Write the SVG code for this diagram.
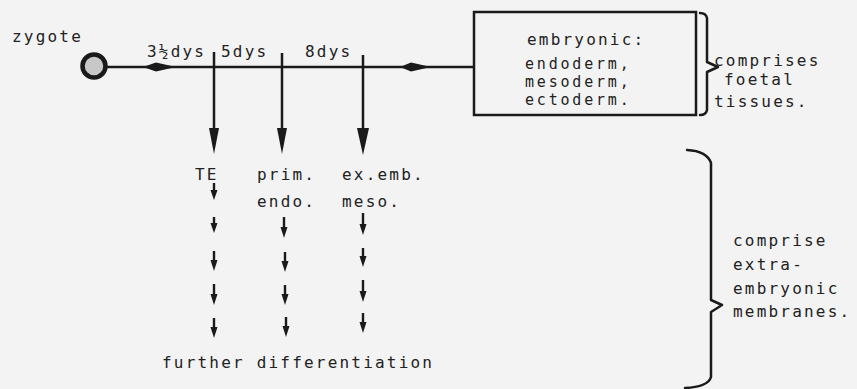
<svg xmlns="http://www.w3.org/2000/svg" width="857" height="389" viewBox="0 0 857 389">
<style>
text{font-family:"DejaVu Sans Mono","Liberation Mono",monospace;font-size:16px;letter-spacing:2.2px;fill:#222}
.tight{font-size:15px;letter-spacing:2.8px}
.ln{stroke:#1a1a1a;stroke-width:2.5;fill:none}
.sm{stroke:#1a1a1a;stroke-width:2.4;fill:none}
.hd{fill:#1a1a1a}
.br{stroke:#1a1a1a;stroke-width:2.5;fill:none;stroke-linecap:round;stroke-linejoin:round}
</style>
<rect width="857" height="389" fill="#f3f3f3"/>
<g id="zygote">
<circle cx="94" cy="66" r="11.5" fill="#c8c8c8" stroke="#1a1a1a" stroke-width="4.5"/>
<text x="12" y="42">zygote</text>
</g>
<g id="connectors">
<line class="ln" x1="106" y1="67" x2="475" y2="67"/>
<polygon class="hd" points="143,67 156,62.5 176,67 156,71.5"/>
<polygon class="hd" points="400,67 411,62.5 431,67 411,71.5"/>
<line class="ln" x1="214" y1="52" x2="214" y2="135"/>
<polygon class="hd" points="209,128 219,128 214,154"/>
<line class="ln" x1="282" y1="53" x2="282" y2="135"/>
<polygon class="hd" points="277,128 287,128 282,154"/>
<line class="ln" x1="363" y1="55" x2="363" y2="135"/>
<polygon class="hd" points="357,128 369,128 363,155"/>
<g id="te-arrows">
<line class="sm" x1="214" y1="183" x2="214" y2="194"/><polygon class="hd" points="210.5,190 217.5,190 214,200"/>
<line class="sm" x1="214" y1="217" x2="214" y2="227"/><polygon class="hd" points="210.5,223 217.5,223 214,233"/>
<line class="sm" x1="214" y1="251" x2="214" y2="264"/><polygon class="hd" points="210.5,260 217.5,260 214,271"/>
<line class="sm" x1="214" y1="284" x2="214" y2="298"/><polygon class="hd" points="210.5,294 217.5,294 214,305"/>
<line class="sm" x1="214" y1="318" x2="214" y2="331"/><polygon class="hd" points="210.5,327 217.5,327 214,338"/>
</g>
<g id="endo-arrows">
<line class="sm" x1="284" y1="217" x2="284" y2="231"/><polygon class="hd" points="280.5,227 287.5,227 284,238"/>
<line class="sm" x1="285" y1="252" x2="285" y2="265"/><polygon class="hd" points="281.5,261 288.5,261 285,272"/>
<line class="sm" x1="285" y1="285" x2="285" y2="298"/><polygon class="hd" points="281.5,294 288.5,294 285,305"/>
<line class="sm" x1="286" y1="317" x2="286" y2="330"/><polygon class="hd" points="282.5,326 289.5,326 286,337"/>
</g>
<g id="meso-arrows">
<line class="sm" x1="363" y1="213" x2="363" y2="228"/><polygon class="hd" points="359.5,224 366.5,224 363,235"/>
<line class="sm" x1="363" y1="248" x2="363" y2="260"/><polygon class="hd" points="359.5,256 366.5,256 363,267"/>
<line class="sm" x1="363" y1="280" x2="363" y2="295"/><polygon class="hd" points="359.5,291 366.5,291 363,302"/>
<line class="sm" x1="363" y1="313" x2="363" y2="326"/><polygon class="hd" points="359.5,322 366.5,322 363,333"/>
</g>
</g>
<g id="times">
<text x="147" y="57">3½dys</text>
<text x="221" y="57">5dys</text>
<text x="305" y="57">8dys</text>
</g>
<g id="embryonic">
<rect x="474" y="12" width="222" height="103" fill="none" stroke="#1a1a1a" stroke-width="2.5"/>
<text x="527" y="45">embryonic:</text>
<text class="tight" x="525" y="69">endoderm,</text>
<text class="tight" x="525" y="87">mesoderm,</text>
<text class="tight" x="525" y="105">ectoderm.</text>
</g>
<g id="foetal">
<path class="br" d="M700,13 Q706,13 707,18 L707,62 L718,67 L707,72 L707,110 Q706,115 700,115"/>
<text x="714" y="66">comprises</text>
<text x="724" y="85">foetal</text>
<text x="714" y="107">tissues.</text>
</g>
<g id="te"><text x="195" y="180">TE</text></g>
<g id="prim-endo"><text x="257" y="180">prim.</text><text x="257" y="207">endo.</text></g>
<g id="ex-emb-meso"><text x="342" y="180">ex.emb.</text><text x="342" y="207">meso.</text></g>
<g id="further"><text x="162" y="368">further differentiation</text></g>
<g id="extra">
<path class="br" d="M687,150 Q707,151 711,163 L711,300 L722,305 L711,312 L711,377 Q708,387 685,388"/>
<text x="733" y="246">comprise</text>
<text x="733" y="270">extra-</text>
<text x="733" y="294">embryonic</text>
<text x="733" y="317">membranes.</text>
</g>
</svg>
